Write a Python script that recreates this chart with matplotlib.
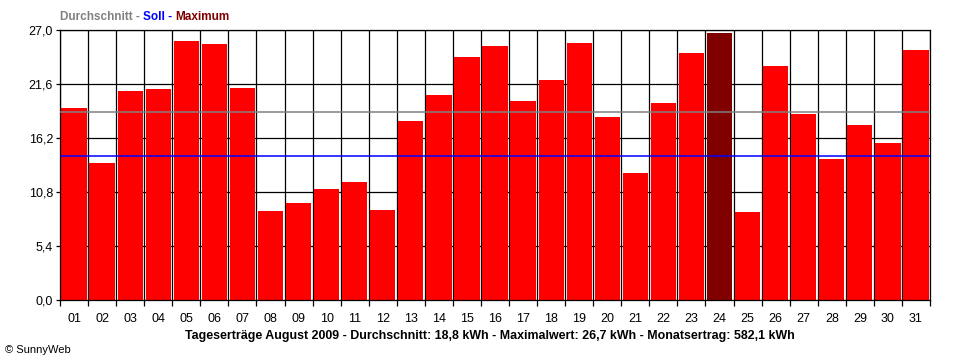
import matplotlib
matplotlib.use("Agg")
import matplotlib.pyplot as plt
from matplotlib.ticker import FixedLocator

# daily yields August 2009 (kWh)
days = ["%02d" % d for d in range(1, 32)]
yields = [19.2, 13.7, 20.9, 21.1, 25.9, 25.6, 21.2, 8.9, 9.7, 11.1,
          11.8, 9.0, 17.9, 20.5, 24.3, 25.4, 19.9, 22.0, 25.7, 18.3,
          12.7, 19.7, 24.7, 26.7, 8.8, 23.4, 18.6, 14.1, 17.5, 15.7, 25.0]
average = 18.8
target = 14.4
y_ticks = [0.0, 5.4, 10.8, 16.2, 21.6, 27.0]

plt.rcParams["font.family"] = ["Liberation Sans", "DejaVu Sans"]

fig = plt.figure(figsize=(9.6, 3.6), dpi=100)
ax = fig.add_axes([60 / 960, 60 / 360, 870 / 960, 270 / 360])

max_i = yields.index(max(yields))
colors = ["#ff0000"] * len(yields)
colors[max_i] = "#800000"
x = list(range(len(days)))
ax.bar(x, yields, width=0.9, color=colors, zorder=2)

ax.axhline(average, color="#808080", lw=1.1, zorder=3)
ax.axhline(target, color="#0000ff", lw=1.1, zorder=3)

ax.set_xlim(-0.5, len(days) - 0.5)
ax.set_ylim(0, 27)
ax.set_xticks(x)
ax.set_xticklabels(days, fontsize=9)
ax.xaxis.set_minor_locator(FixedLocator([i - 0.5 for i in range(len(days) + 1)]))
ax.tick_params(axis="x", which="major", length=0, pad=9)
ax.tick_params(axis="x", which="minor", length=4, width=0.9, direction="out")
ax.set_yticks(y_ticks)
ax.set_yticklabels([("%.1f" % v).replace(".", ",") for v in y_ticks], fontsize=9)
ax.tick_params(axis="y", length=3, width=0.9, pad=2)
ax.grid(True, axis="y", which="major", color="black", lw=0.9, zorder=0)
ax.grid(True, axis="x", which="minor", color="black", lw=0.9, zorder=0)
ax.set_axisbelow(True)
for s in ax.spines.values():
    s.set_color("black")
    s.set_linewidth(0.9)

# header legend in coloured pieces
fig.canvas.draw()
renderer = fig.canvas.get_renderer()
xpos = 60
for txt, col in [("Durchschnitt - ", "#808080"), ("Soll - ", "#0000ff"), ("Maximum", "#800000")]:
    t = fig.text(xpos / 960, 1 - 17 / 360, txt, color=col, fontsize=8.5, fontweight="bold",
                 va="center", ha="left")
    bb = t.get_window_extent(renderer)
    xpos += bb.width

fig.text(490 / 960, 1 - 336 / 360,
         "Tageserträge August 2009 - Durchschnitt: 18,8 kWh - Maximalwert: 26,7 kWh - Monatsertrag: 582,1 kWh",
         ha="center", va="center", fontsize=8.9, fontweight="bold")
fig.text(5 / 960, 1 - 350 / 360, "© SunnyWeb", ha="left", va="center", fontsize=8)

fig.savefig("out.png", dpi=100)
